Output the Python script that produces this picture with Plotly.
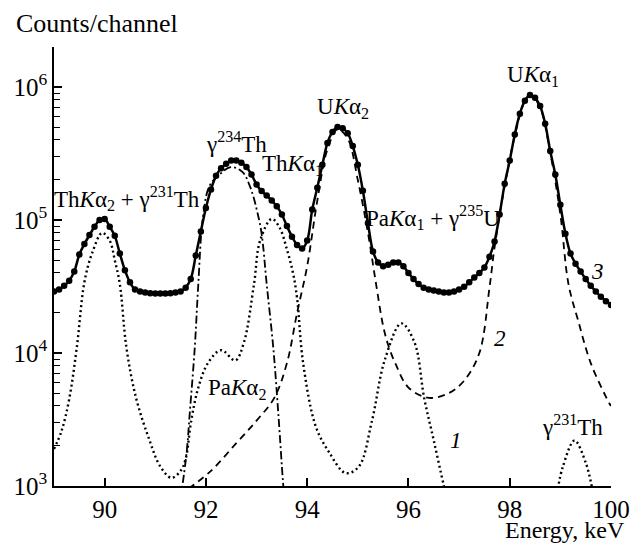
import plotly.graph_objects as go
import numpy as np

# Experimental spectrum (dots) and total fit (curve 3)
exp_e = [89.0, 89.1, 89.2, 89.3, 89.4, 89.5, 89.6, 89.7, 89.8, 89.9,
         90.0, 90.1, 90.2, 90.3, 90.4, 90.5, 90.6, 90.7, 90.8, 90.9,
         91.0, 91.1, 91.2, 91.3, 91.4, 91.5, 91.6, 91.7, 91.8, 91.9,
         92.0, 92.1, 92.2, 92.3, 92.4, 92.5, 92.6, 92.7, 92.8, 92.9,
         93.0, 93.1, 93.2, 93.3, 93.4, 93.5, 93.6, 93.7, 93.8, 93.9,
         94.0, 94.1, 94.2, 94.3, 94.4, 94.5, 94.6, 94.7, 94.8, 94.9,
         95.0, 95.1, 95.2, 95.3, 95.4, 95.5, 95.6, 95.7, 95.8, 95.9,
         96.0, 96.1, 96.2, 96.3, 96.4, 96.5, 96.6, 96.7, 96.8, 96.9,
         97.0, 97.1, 97.2, 97.3, 97.4, 97.5, 97.6, 97.7, 97.8, 97.9,
         98.0, 98.1, 98.2, 98.3, 98.4, 98.5, 98.6, 98.7, 98.8, 98.9,
         99.0, 99.1, 99.2, 99.3, 99.4, 99.5, 99.6, 99.7, 99.8, 99.9, 100.0]
exp_counts = [2.9e4, 3.0e4, 3.2e4, 3.5e4, 4.1e4, 5.5e4, 6.6e4, 7.7e4, 8.9e4, 1.0e5,
              1.02e5, 8.9e4, 7.6e4, 5.6e4, 4.2e4, 3.4e4, 3.0e4, 2.9e4, 2.85e4, 2.82e4,
              2.8e4, 2.8e4, 2.8e4, 2.82e4, 2.85e4, 2.9e4, 3.1e4, 3.6e4, 5.4e4, 8.2e4,
              1.23e5, 1.7e5, 2.15e5, 2.45e5, 2.65e5, 2.8e5, 2.8e5, 2.7e5, 2.5e5, 2.2e5,
              1.85e5, 1.65e5, 1.53e5, 1.4e5, 1.27e5, 1.1e5, 9.0e4, 7.5e4, 6.5e4, 6.1e4,
              7.0e4, 1.2e5, 1.75e5, 2.6e5, 3.8e5, 4.6e5, 5.0e5, 4.9e5, 4.5e5, 3.6e5,
              2.6e5, 1.66e5, 9.5e4, 5.8e4, 4.8e4, 4.5e4, 4.6e4, 4.8e4, 4.8e4, 4.5e4,
              4.0e4, 3.6e4, 3.3e4, 3.1e4, 3.0e4, 2.95e4, 2.9e4, 2.85e4, 2.85e4, 2.9e4,
              3.0e4, 3.15e4, 3.4e4, 3.7e4, 4.0e4, 4.4e4, 5.3e4, 6.9e4, 1.1e5, 1.87e5,
              2.8e5, 4.4e5, 6.3e5, 7.9e5, 8.7e5, 8.3e5, 7.2e5, 5.3e5, 3.3e5, 2.2e5,
              1.3e5, 7.9e4, 5.6e4, 4.7e4, 4.1e4, 3.6e4, 3.2e4, 2.9e4, 2.65e4, 2.45e4, 2.3e4]

# Curve 1 (dotted): Th Ka2, Pa Ka2, Th Ka1, Pa Ka1 components
c1_e = [89.0, 89.15, 89.3, 89.45, 89.6, 89.75, 89.95, 90.1, 90.2, 90.3,
        90.43, 90.62, 90.87, 91.1, 91.32, 91.5, 91.6, 91.71, 91.85, 92.04,
        92.3, 92.58, 92.75, 92.95, 93.07, 93.3, 93.46, 93.59, 93.72, 93.8,
        93.92, 94.17, 94.43, 94.76, 95.02, 95.28, 95.53, 95.86, 96.12, 96.31,
        96.5, 96.7, 96.8]
c1_counts = [1.9e3, 2.6e3, 4.5e3, 1.1e4, 3.4e4, 5.6e4, 8.0e4, 7.0e4, 5.0e4, 3.3e4,
             1.1e4, 4.6e3, 2.3e3, 1.4e3, 1.15e3, 1.3e3, 1.6e3, 3.1e3, 5.5e3, 8.4e3,
             1.05e4, 8.8e3, 1.2e4, 3.3e4, 7.0e4, 1.02e5, 8.7e4, 6.2e4, 4.0e4, 2.6e4,
             8.4e3, 2.8e3, 1.8e3, 1.25e3, 1.4e3, 3.1e3, 8.8e3, 1.67e4, 1.2e4, 4.6e3,
             2.2e3, 1.0e3, 7.0e2]

# Curve 1, gamma 231Th component
g231_e = [98.95, 99.05, 99.28, 99.5, 99.63]
g231_counts = [9.5e2, 1.4e3, 2.2e3, 1.5e3, 9.5e2]

# Dash-dot: gamma 234Th
g234_e = [91.5, 91.62, 91.68, 91.78, 91.85, 91.94, 92.07, 92.27, 92.49, 92.72,
          92.88, 93.01, 93.1, 93.2, 93.33, 93.43, 93.52, 93.55]
g234_counts = [8.0e2, 1.8e3, 3.5e3, 1.1e4, 3.3e4, 1.04e5, 1.8e5, 2.2e5, 2.5e5, 2.3e5,
               1.75e5, 1.17e5, 7.9e4, 3.3e4, 1.1e4, 3.5e3, 1.1e3, 8.0e2]

# Curve 2 (dashed): U Ka2 + U Ka1
c2_e = [91.65, 92.1, 92.6, 93.0, 93.35, 93.6, 93.8, 94.0, 94.2, 94.4,
        94.6, 94.8, 95.0, 95.2, 95.35, 95.5, 95.6, 95.75, 96.0, 96.4,
        96.8, 97.1, 97.4, 97.6, 97.7, 97.9, 98.1, 98.3, 98.42, 98.6,
        98.8, 99.0, 99.16, 99.35, 99.6, 99.95, 100.0]
c2_counts = [9.5e2, 1.3e3, 2.1e3, 3.1e3, 4.6e3, 8.4e3, 2.0e4, 4.5e4, 1.4e5, 3.4e5,
             4.8e5, 4.1e5, 2.0e5, 8.0e4, 3.5e4, 1.6e4, 1.15e4, 8.2e3, 5.5e3, 4.6e3,
             5.0e3, 6.2e3, 1.0e4, 3.1e4, 6.2e4, 1.8e5, 4.3e5, 7.8e5, 8.6e5, 7.0e5,
             3.2e5, 1.1e5, 3.3e4, 1.76e4, 8.4e3, 4.3e3, 4.0e3]

x_ticks = [90, 92, 94, 96, 98, 100]
y_ticks = [1e3, 1e4, 1e5, 1e6]
y_ticktext = ["10<sup>3</sup>", "10<sup>4</sup>", "10<sup>5</sup>", "10<sup>6</sup>"]
y_minor = [m * 10 ** d for d in range(3, 7) for m in range(2, 10) if m * 10 ** d <= 2e6]

FONT = "Liberation Serif"

L, R, T, B = 54, 22, 47, 60
W, H = 642, 546
PW, PH = W - L - R, H - T - B

fig = go.Figure()
fig.add_trace(go.Scatter(x=c1_e, y=c1_counts, mode="lines", line_shape="spline",
                         line=dict(color="black", width=2.4, dash="2px,3px")))
fig.add_trace(go.Scatter(x=g231_e, y=g231_counts, mode="lines", line_shape="spline",
                         line=dict(color="black", width=2.4, dash="2px,3px")))
fig.add_trace(go.Scatter(x=g234_e, y=g234_counts, mode="lines", line_shape="spline",
                         line=dict(color="black", width=1.8, dash="8px,3px,2px,3px")))
fig.add_trace(go.Scatter(x=c2_e, y=c2_counts, mode="lines", line_shape="spline",
                         line=dict(color="black", width=1.8, dash="7px,5px")))
fig.add_trace(go.Scatter(x=exp_e, y=exp_counts, mode="lines+markers", line_shape="spline",
                         line=dict(color="black", width=2.5),
                         marker=dict(color="black", size=6.5)))

labels = [
    (90.44, 1.45e5, "Th<i>K</i>α<sub>2</sub> + γ<sup>231</sup>Th"),
    (92.61, 3.8e5, "γ<sup>234</sup>Th"),
    (93.71, 2.6e5, "Th<i>K</i>α<sub>1</sub>"),
    (94.70, 6.96e5, "U<i>K</i>α<sub>2</sub>"),
    (98.45, 1.21e6, "U<i>K</i>α<sub>1</sub>"),
    (96.48, 1.04e5, "Pa<i>K</i>α<sub>1</sub> + γ<sup>235</sup>U"),
    (92.62, 5.4e3, "Pa<i>K</i>α<sub>2</sub>"),
    (99.24, 2.86e3, "γ<sup>231</sup>Th"),
    (96.94, 2.2e3, "<i>1</i>"),
    (97.80, 1.29e4, "<i>2</i>"),
    (99.73, 4.1e4, "<i>3</i>"),
]
for x, y, t in labels:
    fig.add_annotation(x=x, y=np.log10(y), xref="x", yref="y", text=t,
                       showarrow=False, font=dict(family=FONT, size=23, color="black"))

fig.add_annotation(x=(13 - L) / PW, y=1 + (T - 24) / PH, xref="paper", yref="paper",
                   text="Counts/channel", showarrow=False,
                   font=dict(family=FONT, size=26, color="black"),
                   xanchor="left", yanchor="middle")
fig.add_annotation(x=(636 - L) / PW, y=-(530 - (H - B)) / PH, xref="paper", yref="paper",
                   text="Energy, keV", showarrow=False,
                   font=dict(family=FONT, size=24, color="black"),
                   xanchor="right", yanchor="middle")

fig.update_layout(
    width=W, height=H,
    margin=dict(l=L, r=R, t=T, b=B),
    plot_bgcolor="white", paper_bgcolor="white",
    showlegend=False,
)
fig.update_xaxes(range=[89, 100], tickmode="array", tickvals=x_ticks,
                 ticks="inside", ticklen=8, tickwidth=1.5, tickcolor="black",
                 showline=True, linecolor="black", linewidth=1.5, showgrid=False,
                 zeroline=False, tickfont=dict(family=FONT, size=25, color="black"))
fig.update_yaxes(type="log", range=[3, np.log10(2e6)], tickmode="array",
                 tickvals=y_ticks, ticktext=y_ticktext,
                 ticks="inside", ticklen=8, tickwidth=1.5, tickcolor="black",
                 showline=True, linecolor="black", linewidth=1.5, showgrid=False,
                 zeroline=False, tickfont=dict(family=FONT, size=25, color="black"),
                 minor=dict(tickmode="array", tickvals=y_minor, ticks="inside",
                            ticklen=6, tickwidth=1.2, tickcolor="black", showgrid=False))

fig.write_html("out.html")
